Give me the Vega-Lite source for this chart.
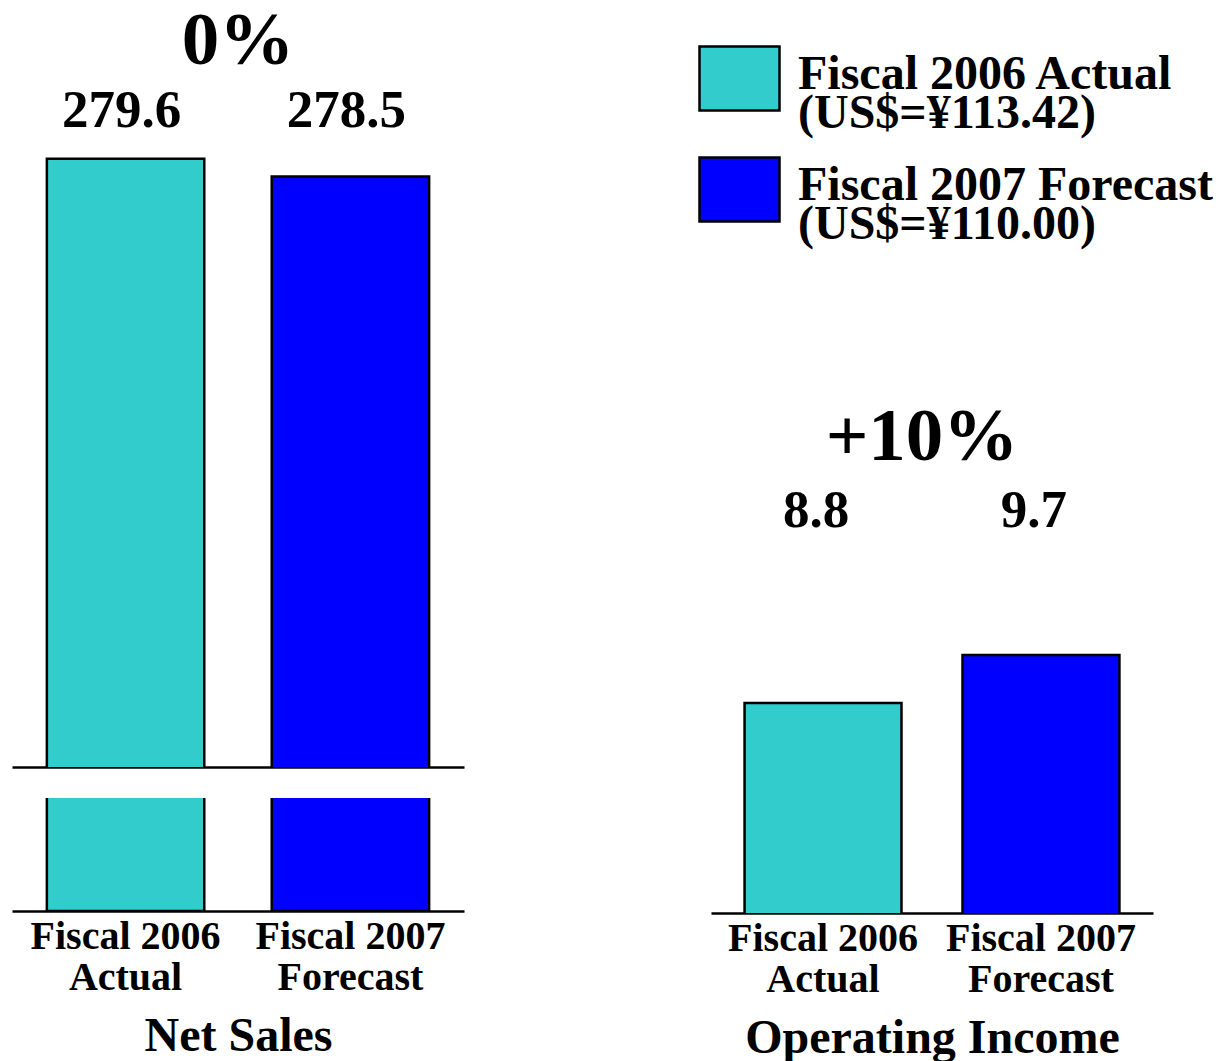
{
  "$schema": "https://vega.github.io/schema/vega-lite/v6.json",
  "padding": {"left": 12, "top": 0, "right": 0, "bottom": 0},
  "background": "white",
  "config": {
    "view": {"stroke": null},
    "font": "Liberation Serif",
    "text": {"font": "Liberation Serif", "fontWeight": "bold", "color": "black"}
  },
  "datasets": {
    "bars": [
      {"metric": "Net Sales", "period": "Fiscal 2006|Actual", "series": "Fiscal 2006 Actual|(US$=¥113.42)", "value": 279.6},
      {"metric": "Net Sales", "period": "Fiscal 2007|Forecast", "series": "Fiscal 2007 Forecast|(US$=¥110.00)", "value": 278.5},
      {"metric": "Operating Income", "period": "Fiscal 2006|Actual", "series": "Fiscal 2006 Actual|(US$=¥113.42)", "value": 8.8},
      {"metric": "Operating Income", "period": "Fiscal 2007|Forecast", "series": "Fiscal 2007 Forecast|(US$=¥110.00)", "value": 9.7}
    ],
    "changes": [
      {"metric": "Net Sales", "change": "0%"},
      {"metric": "Operating Income", "change": "+10%"}
    ]
  },
  "spacing": 234,
  "resolve": {"legend": {"color": "independent"}},
  "hconcat": [
    {
      "bounds": "flush",
      "spacing": 31,
      "resolve": {"legend": {"color": "independent"}},
      "vconcat": [
        {
          "width": 452,
          "height": 767,
          "layer": [
            {
              "data": {"name": "bars"},
              "transform": [{"filter": "datum.metric == 'Net Sales'"}],
              "mark": {"type": "bar", "clip": true, "stroke": "black", "strokeWidth": 2.5},
              "encoding": {
                "x": {"field": "period", "type": "nominal", "sort": null,
                      "scale": {"paddingInner": 0.3, "paddingOuter": 0.155},
                      "axis": {"labels": false, "ticks": false, "title": null, "domainColor": "black", "domainWidth": 2.5}},
                "y": {"field": "value", "type": "quantitative", "scale": {"domain": [242.4, 289.3], "zero": false, "nice": false}, "axis": null},
                "color": {"field": "series", "type": "nominal", "sort": null,
                          "scale": {"domain": ["Fiscal 2006 Actual|(US$=¥113.42)", "Fiscal 2007 Forecast|(US$=¥110.00)"], "range": ["#33CCCC", "#0000FF"]},
                          "legend": null}
              }
            },
            {
              "data": {"name": "bars"},
              "transform": [{"filter": "datum.metric == 'Net Sales'"}],
              "mark": {"type": "text", "fontSize": 53, "baseline": "alphabetic", "align": "center", "dx": -4},
              "encoding": {
                "x": {"field": "period", "type": "nominal", "sort": null},
                "y": {"datum": 281.56},
                "text": {"field": "value", "type": "quantitative", "format": ".1f"}
              }
            },
            {
              "data": {"name": "changes"},
              "transform": [{"filter": "datum.metric == 'Net Sales'"}],
              "mark": {"type": "text", "fontSize": 75, "baseline": "alphabetic", "align": "center"},
              "encoding": {
                "y": {"datum": 285.4},
                "text": {"field": "change", "type": "nominal"}
              }
            }
          ]
        },
        {
          "width": 452,
          "height": 113,
          "layer": [
            {
              "data": {"name": "bars"},
              "transform": [{"filter": "datum.metric == 'Net Sales'"}],
              "mark": {"type": "bar", "clip": true, "stroke": "black", "strokeWidth": 2.5},
              "encoding": {
                "x": {"field": "period", "type": "nominal", "sort": null,
                      "scale": {"paddingInner": 0.3, "paddingOuter": 0.155},
                      "axis": {"title": "Net Sales", "titleFont": "Liberation Serif", "titleFontWeight": "bold", "titleFontSize": 48, "titleColor": "black", "titlePadding": 15,
                               "labelFont": "Liberation Serif", "labelFontWeight": "bold", "labelFontSize": 40, "labelColor": "black", "labelAngle": 0,
                               "labelExpr": "split(datum.label, '|')", "labelLineHeight": 41, "labelPadding": 5, "labelLimit": 1000, "labelOverlap": false,
                               "ticks": false, "domainColor": "black", "domainWidth": 2.5}},
                "y": {"field": "value", "type": "quantitative", "scale": {"domain": [0, 50], "nice": false}, "axis": null},
                "color": {"field": "series", "type": "nominal", "sort": null,
                          "scale": {"domain": ["Fiscal 2006 Actual|(US$=¥113.42)", "Fiscal 2007 Forecast|(US$=¥110.00)"], "range": ["#33CCCC", "#0000FF"]},
                          "legend": null}
              }
            },
            {
              "mark": {"type": "rule", "color": "black", "strokeWidth": 2.5},
              "encoding": {"y": {"datum": 50}}
            }
          ]
        }
      ]
    },
    {
      "width": 442,
      "height": 913,
      "layer": [
        {
          "data": {"name": "bars"},
          "transform": [{"filter": "datum.metric == 'Operating Income'"}],
          "mark": {"type": "bar", "clip": true, "stroke": "black", "strokeWidth": 2.5},
          "encoding": {
            "x": {"field": "period", "type": "nominal", "sort": null,
                  "scale": {"paddingInner": 0.28, "paddingOuter": 0.154},
                  "axis": {"title": "Operating Income", "titleFont": "Liberation Serif", "titleFontWeight": "bold", "titleFontSize": 48, "titleColor": "black", "titlePadding": 15,
                           "labelFont": "Liberation Serif", "labelFontWeight": "bold", "labelFontSize": 40, "labelColor": "black", "labelAngle": 0,
                           "labelExpr": "split(datum.label, '|')", "labelLineHeight": 41, "labelPadding": 5, "labelLimit": 1000, "labelOverlap": false,
                           "ticks": false, "domainColor": "black", "domainWidth": 2.5}},
            "y": {"field": "value", "type": "quantitative", "scale": {"domain": [4.86, 21.98], "zero": false, "nice": false}, "axis": null},
            "color": {"field": "series", "type": "nominal", "sort": null,
                      "scale": {"domain": ["Fiscal 2006 Actual|(US$=¥113.42)", "Fiscal 2007 Forecast|(US$=¥110.00)"], "range": ["#33CCCC", "#0000FF"]},
                      "legend": {"orient": "none", "legendX": -13, "legendY": 37, "title": null, "direction": "vertical",
                                 "symbolType": "M-1,-0.8H1V0.8H-1Z", "symbolSize": 6400, "symbolStrokeColor": "black", "symbolStrokeWidth": 2.5, "symbolOpacity": 1,
                                 "labelFont": "Liberation Serif", "labelFontWeight": "bold", "labelFontSize": 48, "labelColor": "black", "labelLimit": 2000,
                                 "labelExpr": "split(datum.label, '|')", "labelOffset": 17, "rowPadding": 10, "labelBaseline": "alphabetic",
                                 "encode": {"labels": {"update": {"lineHeight": {"value": 39}, "dy": {"value": 10}}}}}}
          }
        },
        {
          "data": {"name": "bars"},
          "transform": [{"filter": "datum.metric == 'Operating Income'"}],
          "mark": {"type": "text", "fontSize": 53, "baseline": "alphabetic", "align": "center", "dx": -7},
          "encoding": {
            "x": {"field": "period", "type": "nominal", "sort": null},
            "y": {"datum": 12.1},
            "text": {"field": "value", "type": "quantitative", "format": ".1f"}
          }
        },
        {
          "data": {"name": "changes"},
          "transform": [{"filter": "datum.metric == 'Operating Income'"}],
          "mark": {"type": "text", "fontSize": 75, "baseline": "alphabetic", "align": "center", "dx": -10},
          "encoding": {
            "y": {"datum": 13.36},
            "text": {"field": "change", "type": "nominal"}
          }
        }
      ]
    }
  ]
}
